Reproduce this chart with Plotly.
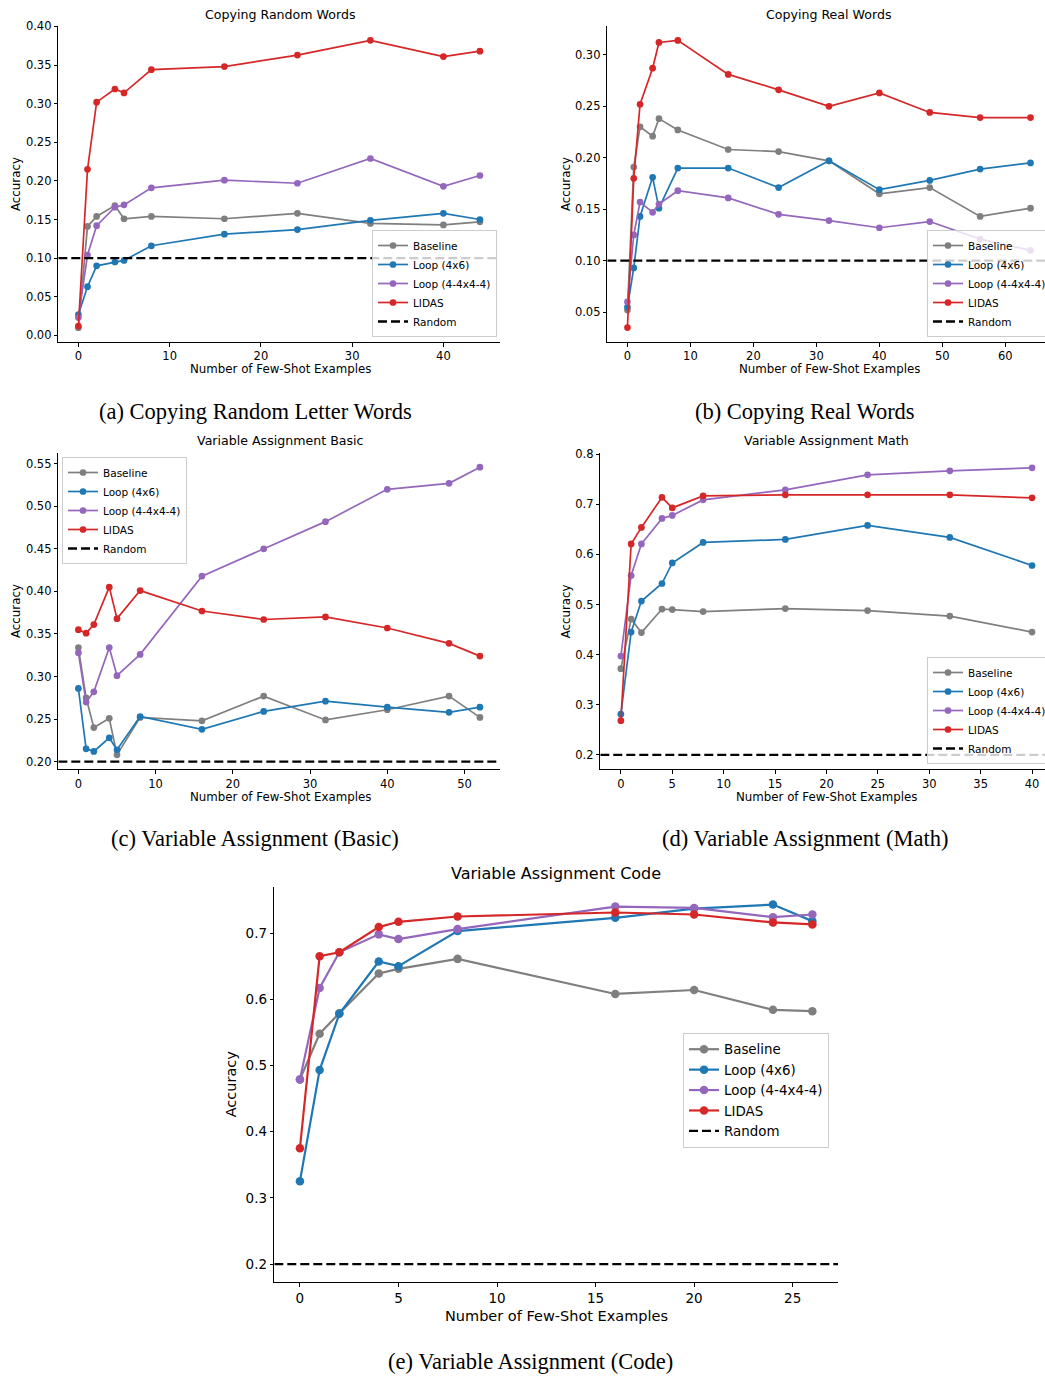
import plotly.graph_objects as go

W, H = 1045, 1376

SERIES = ["Baseline", "Loop (4x6)", "Loop (4-4x4-4)", "LIDAS"]
COLORS = ["#7f7f7f", "#1f77b4", "#9467bd", "#d62728"]

# (a) Copying Random Words
a_x = [0, 1, 2, 4, 5, 8, 16, 24, 32, 40, 44]
a_baseline = [0.010, 0.141, 0.154, 0.168, 0.151, 0.154, 0.151, 0.158, 0.145, 0.143, 0.147]
a_loop46 = [0.027, 0.063, 0.090, 0.095, 0.097, 0.116, 0.131, 0.137, 0.149, 0.158, 0.150]
a_loop444 = [0.023, 0.104, 0.142, 0.166, 0.169, 0.191, 0.201, 0.197, 0.229, 0.193, 0.207]
a_lidas = [0.012, 0.215, 0.302, 0.319, 0.314, 0.344, 0.348, 0.363, 0.382, 0.361, 0.368]
a_random = 0.10

# (b) Copying Real Words
b_x = [0, 1, 2, 4, 5, 8, 16, 24, 32, 40, 48, 56, 64]
b_baseline = [0.052, 0.191, 0.230, 0.221, 0.238, 0.227, 0.208, 0.206, 0.197, 0.165, 0.171, 0.143, 0.151]
b_loop46 = [0.055, 0.093, 0.143, 0.181, 0.151, 0.190, 0.190, 0.171, 0.197, 0.169, 0.178, 0.189, 0.195]
b_loop444 = [0.060, 0.125, 0.157, 0.147, 0.155, 0.168, 0.161, 0.145, 0.139, 0.132, 0.138, 0.121, 0.110]
b_lidas = [0.035, 0.180, 0.252, 0.287, 0.312, 0.314, 0.281, 0.266, 0.250, 0.263, 0.244, 0.239, 0.239]
b_random = 0.10

# (c) Variable Assignment Basic
c_x = [0, 1, 2, 4, 5, 8, 16, 24, 32, 40, 48, 52]
c_baseline = [0.334, 0.275, 0.240, 0.251, 0.208, 0.252, 0.248, 0.277, 0.249, 0.261, 0.277, 0.252]
c_loop46 = [0.286, 0.215, 0.212, 0.228, 0.214, 0.253, 0.238, 0.259, 0.271, 0.264, 0.258, 0.264]
c_loop444 = [0.328, 0.270, 0.282, 0.334, 0.301, 0.326, 0.418, 0.450, 0.482, 0.520, 0.527, 0.546]
c_lidas = [0.355, 0.351, 0.361, 0.405, 0.368, 0.401, 0.377, 0.367, 0.370, 0.357, 0.339, 0.324]
c_random = 0.20

# (d) Variable Assignment Math
d_x = [0, 1, 2, 4, 5, 8, 16, 24, 32, 40]
d_baseline = [0.372, 0.471, 0.444, 0.491, 0.490, 0.486, 0.492, 0.488, 0.477, 0.445]
d_loop46 = [0.281, 0.445, 0.507, 0.542, 0.583, 0.624, 0.630, 0.658, 0.634, 0.578]
d_loop444 = [0.397, 0.558, 0.621, 0.672, 0.678, 0.709, 0.729, 0.759, 0.767, 0.773]
d_lidas = [0.268, 0.621, 0.654, 0.714, 0.693, 0.717, 0.719, 0.719, 0.719, 0.713]
d_random = 0.20

# (e) Variable Assignment Code
e_x = [0, 1, 2, 4, 5, 8, 16, 20, 24, 26]
e_baseline = [0.479, 0.548, 0.579, 0.639, 0.646, 0.661, 0.608, 0.614, 0.584, 0.582]
e_loop46 = [0.325, 0.493, 0.578, 0.657, 0.650, 0.703, 0.723, 0.737, 0.743, 0.718]
e_loop444 = [0.479, 0.617, 0.671, 0.698, 0.691, 0.706, 0.740, 0.738, 0.724, 0.728]
e_lidas = [0.375, 0.665, 0.671, 0.709, 0.717, 0.725, 0.731, 0.728, 0.716, 0.713]
e_random = 0.20

TITLES = ["Copying Random Words", "Copying Real Words", "Variable Assignment Basic",
          "Variable Assignment Math", "Variable Assignment Code"]
CAPTIONS = ["(a) Copying Random Letter Words", "(b) Copying Real Words",
            "(c) Variable Assignment (Basic)", "(d) Variable Assignment (Math)",
            "(e) Variable Assignment (Code)"]
XLABEL = "Number of Few-Shot Examples"
YLABEL = "Accuracy"
RANDOM_LABEL = "Random"

panels_data = [
    (a_x, [a_baseline, a_loop46, a_loop444, a_lidas], a_random),
    (b_x, [b_baseline, b_loop46, b_loop444, b_lidas], b_random),
    (c_x, [c_baseline, c_loop46, c_loop444, c_lidas], c_random),
    (d_x, [d_baseline, d_loop46, d_loop444, d_lidas], d_random),
    (e_x, [e_baseline, e_loop46, e_loop444, e_lidas], e_random),
]

# layout (pixel boxes: left, right, top, bottom)
layout_cfg = [
    dict(box=(58.3, 500, 26, 342), xr=[-2.2, 46.2], yr=[-0.0086, 0.4006], xd=10, yd=0.05, yf=".2f",
         title_xy=(280, 14), xlabel_y=369, ylabel_x=16, cap_xy=(255, 411),
         leg=dict(x=497, y=337, xanchor="right", yanchor="bottom"), small=True),
    dict(box=(607.3, 1045, 26, 342), xr=[-3.2, 66.3], yr=[0.021, 0.328], xd=10, yd=0.05, yf=".2f",
         title_xy=(829, 14), xlabel_y=369, ylabel_x=566, cap_xy=(805, 411),
         leg=dict(x=927, y=337, xanchor="left", yanchor="bottom"), small=True),
    dict(box=(58.3, 500, 452.7, 769.3), xr=[-2.6, 54.6], yr=[0.191, 0.563], xd=10, yd=0.05, yf=".2f",
         title_xy=(280, 441), xlabel_y=797, ylabel_x=16, cap_xy=(255, 838),
         leg=dict(x=62, y=457, xanchor="left", yanchor="top"), small=True),
    dict(box=(600.3, 1045, 453.3, 769.3), xr=[-2.0, 41.26], yr=[0.171, 0.802], xd=5, yd=0.1, yf=".1f",
         title_xy=(826, 441), xlabel_y=797, ylabel_x=566, cap_xy=(805, 838),
         leg=dict(x=927, y=764, xanchor="left", yanchor="bottom"), small=True),
    dict(box=(274.3, 838, 886.7, 1282), xr=[-1.3, 27.3], yr=[0.173, 0.770], xd=5, yd=0.1, yf=".1f",
         title_xy=(556, 873), xlabel_y=1316, ylabel_x=231, cap_xy=(530, 1361),
         leg=dict(x=683, y=1033, xanchor="left", yanchor="top"), small=False),
]

FONT = "DejaVu Sans"
SERIF = "Liberation Serif"

def px(x):
    return x / W

def py(y):
    return 1 - y / H

fig = go.Figure()
annotations = []
layout_updates = {}

for i, ((xs, ys_list, rnd), cfg) in enumerate(zip(panels_data, layout_cfg)):
    n = i + 1
    xa = "x" if n == 1 else f"x{n}"
    ya = "y" if n == 1 else f"y{n}"
    xkey = "xaxis" if n == 1 else f"xaxis{n}"
    ykey = "yaxis" if n == 1 else f"yaxis{n}"
    lkey = "legend" if n == 1 else f"legend{n}"
    small = cfg["small"]
    msize = 6.7 if small else 8.5
    lw = 1.7 if small else 2.2
    tick_fs = 11.5 if small else 13.5
    lab_fs = 11.8 if small else 14.5
    tit_fs = 12.6 if small else 16
    leg_fs = 10.5 if small else 13.4

    for name, ys, col in zip(SERIES, ys_list, COLORS):
        fig.add_trace(go.Scatter(
            x=xs, y=ys, name=name, mode="lines+markers",
            line=dict(color=col, width=lw),
            marker=dict(color=col, size=msize),
            xaxis=xa, yaxis=ya, legend=lkey,
        ))
    fig.add_trace(go.Scatter(
        x=cfg["xr"], y=[rnd, rnd], name=RANDOM_LABEL, mode="lines",
        line=dict(color="black", width=2.3, dash="9px,4px"),
        xaxis=xa, yaxis=ya, legend=lkey,
    ))

    l, r, t, b = cfg["box"]
    axis_common = dict(showline=True, linecolor="black", linewidth=1, mirror=False,
                       ticks="outside", ticklen=3.5, tickwidth=1, tickcolor="black",
                       showgrid=False, zeroline=False, automargin=False,
                       tickfont=dict(family=FONT, size=tick_fs, color="black"))
    layout_updates[xkey] = dict(domain=[px(l), px(r)], range=cfg["xr"], dtick=cfg["xd"], tick0=0,
                                anchor=ya, **axis_common)
    layout_updates[ykey] = dict(domain=[py(b), py(t)], range=cfg["yr"], dtick=cfg["yd"], tick0=0,
                                tickformat=cfg["yf"], anchor=xa, **axis_common)
    lg = cfg["leg"]
    layout_updates[lkey] = dict(x=px(lg["x"]), y=py(lg["y"]), xref="paper", yref="paper",
                                xanchor=lg["xanchor"], yanchor=lg["yanchor"],
                                bgcolor="rgba(255,255,255,0.8)", bordercolor="#cccccc", borderwidth=1,
                                font=dict(family=FONT, size=leg_fs, color="black"),
                                tracegroupgap=0)

    tx, ty = cfg["title_xy"]
    annotations.append(dict(text=TITLES[i], x=px(tx), y=py(ty), xref="paper", yref="paper",
                            showarrow=False, xanchor="center", yanchor="middle",
                            font=dict(family=FONT, size=tit_fs, color="black")))
    annotations.append(dict(text=XLABEL, x=px(tx), y=py(cfg["xlabel_y"]), xref="paper", yref="paper",
                            showarrow=False, xanchor="center", yanchor="middle",
                            font=dict(family=FONT, size=lab_fs, color="black")))
    annotations.append(dict(text=YLABEL, x=px(cfg["ylabel_x"]), y=py((t + b) / 2), xref="paper", yref="paper",
                            showarrow=False, xanchor="center", yanchor="middle", textangle=-90,
                            font=dict(family=FONT, size=lab_fs, color="black")))
    cx, cy = cfg["cap_xy"]
    annotations.append(dict(text=CAPTIONS[i], x=px(cx), y=py(cy), xref="paper", yref="paper",
                            showarrow=False, xanchor="center", yanchor="middle",
                            font=dict(family=SERIF, size=22.5, color="black")))

fig.update_layout(
    width=W, height=H,
    margin=dict(l=0, r=0, t=0, b=0, pad=0, autoexpand=False),
    paper_bgcolor="white", plot_bgcolor="white",
    annotations=annotations,
    **layout_updates,
)

fig.write_html(
    "out.html",
    config={"displayModeBar": False},
    post_script="document.body.style.margin='0px';document.body.style.padding='0px';"
                "document.documentElement.style.overflow='hidden';",
)
